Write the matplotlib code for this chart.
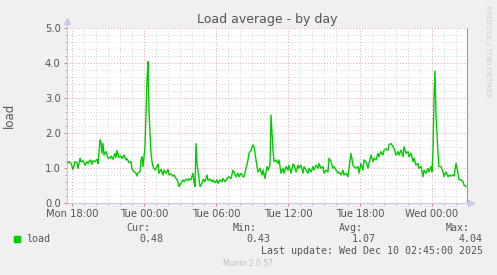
#!/usr/bin/env python3

import matplotlib
matplotlib.use('Agg')
import matplotlib.pyplot as plt
import matplotlib.dates as mdates
import pandas as pd

# =============================================================================
#                               Data
# =============================================================================
# 5 minute sample number since Mon 17:35 and load value at that sample
sample = [0, 2, 4, 6, 8, 10, 11, 13, 14, 16, 18, 20, 21, 23, 25, 26, 28, 30, 31, 33,
          34, 35, 36, 37, 39, 41, 43, 44, 46, 48, 49, 50, 52, 54, 55, 57, 59, 60, 62, 64,
          65, 67, 69, 70, 71, 73, 74, 75, 76, 78, 80, 81, 82, 83, 84, 85, 86, 88, 90, 91,
          92, 94, 96, 97, 99, 101, 102, 104, 106, 107, 109, 111, 112, 114, 116, 117, 119, 121, 122, 124,
          126, 127, 128, 129, 130, 132, 133, 135, 136, 138, 140, 141, 143, 145, 146, 148, 150, 151, 153, 155,
          156, 158, 160, 162, 164, 166, 167, 169, 171, 172, 174, 176, 177, 179, 181, 182, 184, 186, 187, 188,
          190, 191, 193, 195, 196, 198, 200, 201, 203, 204, 206, 207, 209, 211, 212, 214, 216, 217, 219, 221,
          222, 224, 226, 227, 229, 231, 232, 234, 236, 237, 239, 241, 242, 244, 246, 247, 249, 251, 252, 254,
          256, 257, 259, 261, 262, 264, 266, 267, 269, 271, 272, 274, 276, 277, 279, 281, 282, 284, 286, 287,
          289, 291, 292, 294, 296, 297, 299, 301, 302, 304, 306, 307, 309, 311, 312, 314, 316, 317, 319, 321,
          322, 324, 326, 327, 329, 331, 332, 334, 336, 337, 339, 341, 342, 344, 346, 347, 349, 351, 352, 354,
          356, 357, 359, 361, 362, 364, 365, 366, 367, 368, 369, 371, 372, 374, 376, 377, 379, 381, 382, 384,
          386, 387, 389, 391, 392, 394, 396, 397, 399]
load = [1.13, 1.18, 1.13, 0.96, 1.18, 1.15, 0.99, 1.28, 1.18, 1.21, 1.08, 1.18, 1.13, 1.23, 1.11, 1.21, 1.18, 1.25, 1.13, 1.80,
        1.75, 1.42, 1.70, 1.37, 1.47, 1.28, 1.28, 1.34, 1.25, 1.42, 1.30, 1.50, 1.30, 1.34, 1.27, 1.37, 1.23, 1.27, 1.15, 1.18,
        0.96, 0.89, 0.85, 0.77, 0.87, 0.89, 1.23, 1.32, 1.04, 1.60, 3.50, 4.04, 2.60, 1.99, 1.42, 1.18, 1.04, 0.94, 1.04, 1.11,
        0.85, 0.96, 0.80, 0.94, 0.85, 0.96, 0.80, 0.83, 0.77, 0.80, 0.70, 0.61, 0.47, 0.56, 0.66, 0.61, 0.68, 0.64, 0.70, 0.66,
        0.85, 0.61, 0.47, 1.70, 1.13, 0.70, 0.47, 0.56, 0.68, 0.61, 0.80, 0.64, 0.68, 0.61, 0.66, 0.58, 0.66, 0.56, 0.66, 0.61,
        0.70, 0.61, 0.70, 0.75, 0.70, 0.94, 0.89, 0.75, 0.85, 0.75, 0.85, 0.75, 0.75, 0.99, 1.23, 1.42, 1.51, 1.66, 1.61, 1.42,
        1.04, 0.89, 0.99, 0.80, 0.94, 0.70, 1.04, 0.94, 1.08, 2.51, 1.51, 1.18, 1.23, 1.13, 1.23, 0.85, 0.99, 0.85, 1.04, 0.94,
        1.08, 0.85, 1.11, 1.08, 0.89, 1.08, 0.99, 1.08, 0.85, 1.04, 0.94, 0.85, 0.99, 0.89, 1.04, 0.94, 1.08, 0.99, 1.13, 0.99,
        1.04, 0.85, 0.94, 0.89, 1.28, 1.18, 0.99, 1.04, 0.94, 0.85, 0.89, 0.80, 0.94, 0.80, 0.85, 0.75, 0.99, 1.42, 1.08, 1.04,
        0.99, 1.04, 0.85, 1.13, 0.94, 1.23, 1.18, 0.99, 1.13, 1.37, 1.18, 1.28, 1.23, 1.42, 1.32, 1.47, 1.37, 1.51, 1.55, 1.51,
        1.66, 1.70, 1.61, 1.56, 1.37, 1.47, 1.37, 1.51, 1.32, 1.61, 1.42, 1.47, 1.32, 1.42, 1.18, 1.28, 1.08, 1.13, 0.99, 1.04,
        0.75, 0.94, 0.85, 0.99, 0.89, 1.04, 0.89, 1.50, 3.00, 3.77, 2.50, 1.42, 1.04, 1.04, 0.89, 0.75, 0.89, 0.75, 0.80, 0.77,
        0.80, 0.77, 1.13, 0.85, 0.66, 0.66, 0.61, 0.51, 0.47]
assert len(sample) == len(load), (len(sample), len(load))

start = pd.Timestamp('2025-12-08 17:35')
n_samples = 400
legend_heads = ['Cur:', 'Min:', 'Avg:', 'Max:']
legend_vals = ['0.48', '0.43', '1.07', '4.04']
last_update = 'Last update: Wed Dec 10 02:45:00 2025'

times = start + pd.to_timedelta([s * 5 for s in sample], unit='min')

# =============================================================================
#                               Chart
# =============================================================================
bg = '#f0f0f0'
txt = '#555555'
green = '#00cc00'
axis_col = '#c8c8f0'

fig = plt.figure(figsize=(4.97, 2.75), dpi=100, facecolor=bg)
ax = fig.add_axes([67 / 497, 72 / 275, 400 / 497, 175 / 275])
ax.set_facecolor('white')

ax.plot(times, load, color=green, linewidth=1.0, zorder=3)

ax.set_xlim(start, start + pd.Timedelta(minutes=5 * n_samples))
ax.set_ylim(0, 5)

ax.xaxis.set_major_locator(mdates.HourLocator(byhour=[0, 6, 12, 18]))
ax.xaxis.set_minor_locator(mdates.HourLocator())
ax.xaxis.set_major_formatter(mdates.DateFormatter('%a %H:%M'))
ax.yaxis.set_major_locator(matplotlib.ticker.MultipleLocator(1.0))
ax.yaxis.set_minor_locator(matplotlib.ticker.MultipleLocator(0.2))
ax.yaxis.set_major_formatter(matplotlib.ticker.FormatStrFormatter('%.1f'))

ax.grid(which='minor', color='#d4d4d4', linestyle=(0, (1, 2)), linewidth=0.7, zorder=1)
ax.grid(which='major', color='#eea0a0', linestyle=(0, (1, 2)), linewidth=0.7, zorder=2)
ax.set_axisbelow(True)

ax.tick_params(which='both', direction='out', colors=txt, labelsize=7.2, pad=2)
ax.tick_params(which='major', length=2.5, color='#e08080')
ax.tick_params(which='minor', length=1.5, color='#aaaaaa')

ax.spines['top'].set_visible(False)
ax.spines['right'].set_color('#999999')
ax.spines['right'].set_linewidth(0.8)
ax.spines['left'].set_color(axis_col)
ax.spines['bottom'].set_color(axis_col)
ax.spines['left'].set_linewidth(0.8)
ax.spines['bottom'].set_linewidth(0.8)

# axis arrows
ax.plot([0, 0], [1.0, 1.04], transform=ax.transAxes, color=axis_col, lw=0.8, clip_on=False)
ax.plot([0], [1.04], marker='^', markersize=4, color=axis_col, transform=ax.transAxes, clip_on=False)
ax.plot([1.0, 1.01], [0, 0], transform=ax.transAxes, color=axis_col, lw=0.8, clip_on=False)
ax.plot([1.01], [0], marker='>', markersize=4, color=axis_col, transform=ax.transAxes, clip_on=False)

ax.set_ylabel('load', color=txt, fontsize=8.5)
ax.yaxis.set_label_coords(-0.128, 0.5)
fig.text(267 / 497, 1 - 19 / 275, 'Load average - by day', ha='center', va='center',
         color=txt, fontsize=9)
fig.text(488 / 497, 1 - 5 / 275, 'RRDTOOL / TOBI OETIKER', rotation=270, ha='center', va='top',
         color='#cccccc', fontsize=5.2)

# legend block
mono = 'DejaVu Sans Mono'
fig.patches.append(plt.Rectangle((14 / 497, 1 - 242 / 275), 6 / 497, 6 / 275,
                                 transform=fig.transFigure, color=green, figure=fig))
fig.text(26 / 497, 1 - 239 / 275, 'load', family=mono, fontsize=7.2, color=txt, va='center')
head_right = [150, 257, 363, 470]
val_right = [163, 270, 376, 483]
for h, hx, v, vx in zip(legend_heads, head_right, legend_vals, val_right):
    fig.text(hx / 497, 1 - 228 / 275, h, family=mono, fontsize=7.2, color=txt, ha='right', va='center')
    fig.text(vx / 497, 1 - 239 / 275, v, family=mono, fontsize=7.2, color=txt, ha='right', va='center')
fig.text(483 / 497, 1 - 251 / 275, last_update, family=mono, fontsize=7.2, color=txt, ha='right', va='center')
fig.text(248 / 497, 1 - 264 / 275, 'Munin 2.0.57', fontsize=5.5, color='#c0c0c0', ha='center', va='center')

fig.savefig('out.png', dpi=100, facecolor=bg)
